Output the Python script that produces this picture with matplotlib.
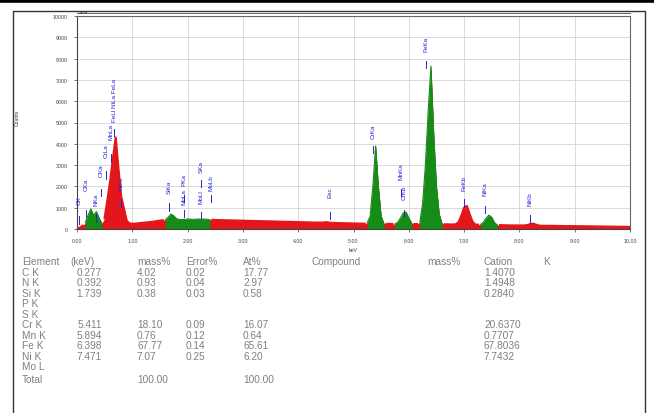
import numpy as np
import matplotlib
matplotlib.use("Agg")
import matplotlib.pyplot as plt
from matplotlib.lines import Line2D

plt.rcParams['font.family'] = ['Liberation Sans', 'DejaVu Sans']

# ---------------- data ----------------
energy_step = 0.05  # keV per channel of the listed spectrum
counts = [
    0, 60, 150, 300, 650, 950, 650, 820, 520, 260, 520, 1350, 2250, 3300, 4300, 2800, 1500, 950, 380, 260,
    240, 250, 260, 280, 290, 300, 320, 330, 350, 370, 390, 410, 440, 560, 700, 620, 480, 450, 440, 450,
    470, 460, 450, 460, 470, 460, 470, 450, 440, 430, 420, 420, 415, 410, 410, 405, 400, 400, 395, 390,
    390, 385, 380, 380, 375, 370, 370, 365, 360, 360, 355, 350, 350, 345, 340, 340, 335, 330, 330, 325,
    320, 320, 315, 310, 310, 305, 300, 300, 295, 300, 320, 300, 285, 280, 280, 275, 270, 270, 265, 260,
    260, 255, 250, 250, 250, 300, 600, 2000, 3900, 2000, 600, 260, 240, 240, 235, 240, 320, 520, 760, 800,
    520, 290, 230, 230, 320, 1200, 3000, 5500, 7650, 4500, 2000, 700, 260, 220, 215, 210, 210, 220, 320, 620,
    1000, 1080, 700, 350, 210, 200, 220, 320, 520, 650, 550, 300, 190, 180, 175, 170, 170, 165, 165, 160,
    160, 160, 165, 190, 230, 250, 200, 160, 150, 150, 148, 145, 145, 142, 140, 140, 138, 135, 135, 132,
    130, 130, 128, 125, 125, 122, 120, 120, 118, 115, 115, 112, 110, 110, 108, 105, 105, 102, 100, 100,
    98,
]
# identified element regions (green)
roi_start = [0.15, 1.60, 5.25, 5.75, 6.20, 7.30]
roi_end = [0.45, 2.40, 5.55, 6.05, 6.60, 7.60]

# peak labels: text, energy, label centre (counts), marker top (counts)
peak_names = ["CK", "CKa", "NKa", "OKa", "CrLa", "MnLa", "FeLl NiLa FeLa", "NiLa",
              "SiKa", "PKa", "MoLa", "SKa", "MoLl", "MoLb", "Esc",
              "CrKa", "MnKa", "CrKb", "FeKa", "FeKb", "NiKa", "NiKb"]
peak_energy = [0.03, 0.16, 0.34, 0.43, 0.52, 0.61, 0.67, 0.80,
               1.66, 1.93, 1.93, 2.24, 2.24, 2.42, 4.58,
               5.35, 5.86, 5.91, 6.32, 6.99, 7.38, 8.19]
peak_label_y = [1400, 2100, 1400, 2800, 3700, 4600, 6100, 2200,
                2000, 2350, 1550, 2950, 1550, 2200, 1750,
                4600, 2750, 1750, 8700, 2200, 1900, 1450]
peak_mark_y = [600, 900, 700, 1900, 2700, 3500, 4700, 1400,
               1200, 1600, 900, 2300, 800, 1600, 800,
               3900, 1900, 900, 7900, 1400, 1100, 650]

x_ticks = [0, 1, 2, 3, 4, 5, 6, 7, 8, 9, 10]
x_labels = ["0.00", "1.00", "2.00", "3.00", "4.00", "5.00", "6.00", "7.00", "8.00", "9.00", "10.00"]
y_ticks = [0, 1000, 2000, 3000, 4000, 5000, 6000, 7000, 8000, 9000, 10000]
y_labels = ["0", "1000", "2000", "3000", "4000", "5000", "6000", "7000", "8000", "9000", "10000"]

# result table
table_header = ["Element", "(keV)", "mass%", "Error%", "At%", "Compound", "mass%", "Cation", "K"]
el_names = ["C K", "N K", "Si K", "P K", "S K", "Cr K", "Mn K", "Fe K", "Ni K", "Mo L", "Total"]
el_kev = ["0.277", "0.392", "1.739", "", "", "5.411", "5.894", "6.398", "7.471", "", ""]
el_mass = ["4.02", "0.93", "0.38", "", "", "18.10", "0.76", "67.77", "7.07", "", "100.00"]
el_error = ["0.02", "0.04", "0.03", "", "", "0.09", "0.12", "0.14", "0.25", "", ""]
el_at = ["17.77", "2.97", "0.58", "", "", "16.07", "0.64", "65.61", "6.20", "", "100.00"]
el_k = ["1.4070", "1.4948", "0.2840", "", "", "20.6370", "0.7707", "67.8036", "7.7432", "", ""]

# ---------------- figure ----------------
W, H = 654, 414
fig = plt.figure(figsize=(W / 100, H / 100), dpi=100)
fig.patch.set_facecolor("white")


def fx(x):
    return x / W


def fy(y):
    return 1 - y / H


# outer frame lines
fig.add_artist(Line2D([0, 1], [fy(1.5), fy(1.5)], color="black", lw=2.6))
fig.add_artist(Line2D([fx(13), fx(13), fx(645), fx(645)], [fy(414), fy(12), fy(12), fy(414)],
                      color="#333333", lw=1.0))

ax = fig.add_axes([fx(77), fy(230), (630 - 77) / W, (230 - 17) / H])
E = np.arange(len(counts)) * energy_step
C = np.array(counts, dtype=float)

red = "#e3161b"
green = "#158c18"
in_roi = np.zeros(len(E), dtype=bool)
for s, e in zip(roi_start, roi_end):
    in_roi |= (E >= s - 1e-9) & (E <= e + 1e-9)

ax.fill_between(E, 0, C, color=red, lw=0)
C_red_line = np.where(in_roi, np.nan, C)
ax.plot(E, C_red_line, color=red, lw=1.6)
for s, e in zip(roi_start, roi_end):
    m = (E >= s - 1e-9) & (E <= e + 1e-9)
    ax.fill_between(E[m], 0, C[m], color=green, lw=0)
    ax.plot(E[m], C[m], color=green, lw=0.8)

blue = "#2323d8"
for name, e, ly, my in zip(peak_names, peak_energy, peak_label_y, peak_mark_y):
    ax.text(e, ly, name, rotation=90, ha="center", va="center", fontsize=4.6, color=blue)
    ax.plot([e, e], [my - 350, my], color=blue, lw=0.7)

ax.set_xlim(0, 10)
ax.set_ylim(0, 10000)
ax.set_xticks(x_ticks)
ax.set_xticklabels(x_labels)
ax.set_yticks(y_ticks)
ax.set_yticklabels(y_labels)
ax.tick_params(labelsize=3.8, colors="#444444", length=2.5, width=0.5, pad=4)
ax.grid(True, color="#d3d3d3", lw=0.6)
ax.set_axisbelow(True)
for sp in ["left", "bottom"]:
    ax.spines[sp].set_color("#444444")
    ax.spines[sp].set_linewidth(0.8)
for sp in ["top", "right"]:
    ax.spines[sp].set_color("#666666")
    ax.spines[sp].set_linewidth(0.8)
ax.set_xlabel("keV", fontsize=3.8, color="#444444", labelpad=3)
fig.add_artist(Line2D([fx(77), fx(630)], [fy(14), fy(14)], color="#666666", lw=0.7))
fig.text(fx(79), fy(14.5), "SEM", fontsize=3.2, color="#333333", va="bottom")
fig.text(fx(17), fy(118), "Counts", fontsize=3.6, color="#333333", rotation=90, ha="center", va="center")

# table
tcol = "#808080"
fs = 7.3
col_x = [22, 70, 137, 186, 243, 312, 427, 484, 543]
row0 = 262
dy = 10.55
for cx, t in zip(col_x, table_header):
    fig.text(fx(cx), fy(row0), t, fontsize=fs, color=tcol, va="center")
for i, nm in enumerate(el_names):
    y = row0 + dy * (i + 1) + (2 if nm == "Total" else 0)
    fig.text(fx(22), fy(y), nm, fontsize=fs, color=tcol, va="center")
    fig.text(fx(102), fy(y), el_kev[i], fontsize=fs, color=tcol, va="center", ha="right")
    fig.text(fx(137), fy(y), el_mass[i], fontsize=fs, color=tcol, va="center")
    fig.text(fx(186), fy(y), el_error[i], fontsize=fs, color=tcol, va="center")
    fig.text(fx(243), fy(y), el_at[i], fontsize=fs, color=tcol, va="center")
    fig.text(fx(484), fy(y), el_k[i], fontsize=fs, color=tcol, va="center")

fig.savefig("out.png", dpi=100)
